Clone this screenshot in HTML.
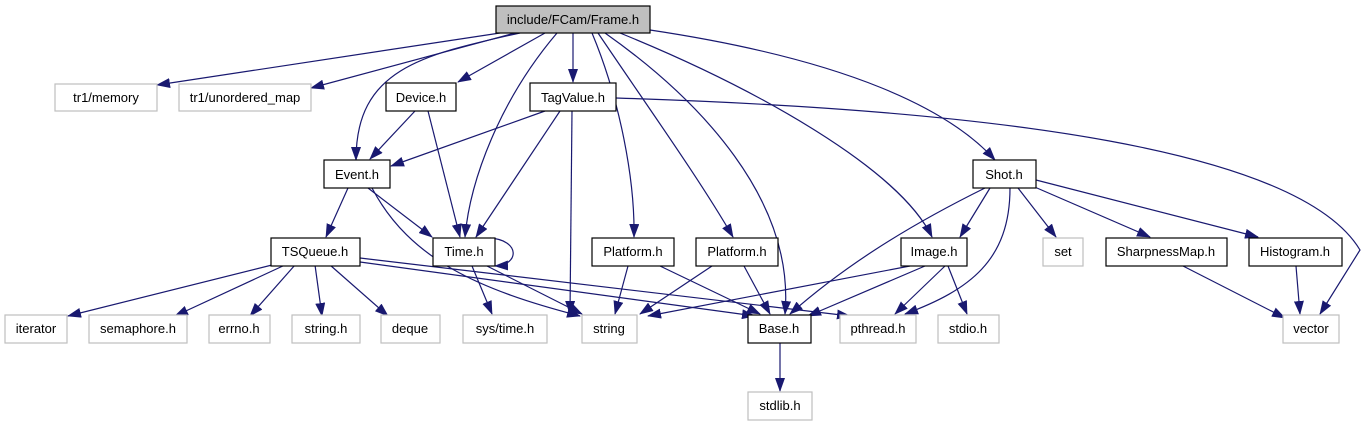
<!DOCTYPE html>
<html><head><style>
html,body{margin:0;padding:0;background:#fff;}
svg{display:block;}
text{font-family:"Liberation Sans",sans-serif;font-size:13px;text-anchor:middle;fill:#000;}
</style></head><body>
<svg width="1366" height="427" viewBox="0 0 1366 427">
<defs>
<marker id="a" markerWidth="14" markerHeight="10" refX="13" refY="5" orient="auto" markerUnits="userSpaceOnUse">
<path d="M0,0 L14,5 L0,10 z" fill="#191970"/>
</marker>
</defs>
<g fill="none" stroke="#191970" stroke-width="1.2" marker-end="url(#a)">
<path d="M500,33 L157,85"/>
<path d="M515,33 L311,88"/>
<path d="M520,33 C420,55 356,70 356,160"/>
<path d="M545,33 L458,82"/>
<path d="M573,33 L573,82"/>
<path d="M557,33 C500,100 470,180 465,237"/>
<path d="M592,33 C620,100 635,180 634,237"/>
<path d="M598,33 C650,110 700,180 733,237"/>
<path d="M605,33 C700,100 795,200 785,314"/>
<path d="M620,33 C760,90 900,170 932,237"/>
<path d="M650,30 C850,60 950,110 995,160"/>
<path d="M415,111 L370,159"/>
<path d="M428,111 L460,237"/>
<path d="M545,111 L391,166"/>
<path d="M560,111 L476,237"/>
<path d="M572,111 L570,314"/>
<path d="M616,98 C1000,110 1300,150 1360,250 L1320,314"/>
<path d="M348,188 L326,237"/>
<path d="M368,188 L432,237"/>
<path d="M372,188 C410,260 480,290 580,316"/>
<path d="M272,265 L68,316"/>
<path d="M285,265 L175,316"/>
<path d="M295,265 L250,316"/>
<path d="M315,265 L322,316"/>
<path d="M330,265 L388,316"/>
<path d="M360,262 L755,316"/>
<path d="M360,258 L850,316"/>
<path d="M490,238 C520,240 520,265 495,266"/>
<path d="M472,266 L492,314"/>
<path d="M487,266 L582,314"/>
<path d="M628,266 L615,314"/>
<path d="M660,266 L760,314"/>
<path d="M712,266 L640,314"/>
<path d="M744,266 L770,314"/>
<path d="M910,266 L648,316"/>
<path d="M925,266 L808,316"/>
<path d="M945,266 L895,314"/>
<path d="M948,266 L967,314"/>
<path d="M990,188 L960,237"/>
<path d="M985,188 C900,230 840,270 790,314"/>
<path d="M1010,188 C1010,260 970,290 905,314"/>
<path d="M1018,188 L1056,237"/>
<path d="M1030,185 L1150,237"/>
<path d="M1036,180 L1258,237"/>
<path d="M1183,266 L1285,318"/>
<path d="M1296,266 L1300,314"/>
<path d="M780,343 L780,391"/>
</g>
<g stroke-width="1.2">
<rect x="496" y="6" width="154" height="27" fill="#bfbfbf" stroke="#000"/>
<text x="573" y="24">include/FCam/Frame.h</text>
<g fill="#fff" stroke="#bfbfbf">
<rect x="55" y="84" width="102" height="27"/><rect x="179" y="84" width="132" height="27"/>
<rect x="1043" y="238" width="40" height="28"/>
<rect x="5" y="315" width="62" height="28"/><rect x="89" y="315" width="98" height="28"/>
<rect x="209" y="315" width="61" height="28"/><rect x="292" y="315" width="68" height="28"/>
<rect x="381" y="315" width="59" height="28"/><rect x="463" y="315" width="84" height="28"/>
<rect x="582" y="315" width="55" height="28"/><rect x="840" y="315" width="76" height="28"/>
<rect x="938" y="315" width="61" height="28"/><rect x="1283" y="315" width="56" height="28"/>
<rect x="748" y="392" width="64" height="28"/>
</g>
<g fill="#fff" stroke="#000">
<rect x="386" y="83" width="70" height="28"/><rect x="530" y="83" width="86" height="28"/>
<rect x="324" y="160" width="66" height="28"/><rect x="973" y="160" width="63" height="28"/>
<rect x="271" y="238" width="89" height="28"/><rect x="433" y="238" width="62" height="28"/>
<rect x="592" y="238" width="82" height="28"/><rect x="696" y="238" width="82" height="28"/>
<rect x="901" y="238" width="66" height="28"/><rect x="1106" y="238" width="121" height="28"/>
<rect x="1249" y="238" width="93" height="28"/><rect x="748" y="315" width="63" height="28"/>
</g>
</g>
<g>
<text x="106" y="102">tr1/memory</text><text x="245" y="102">tr1/unordered_map</text>
<text x="421" y="102">Device.h</text><text x="573" y="102">TagValue.h</text>
<text x="357" y="179">Event.h</text><text x="1004" y="179">Shot.h</text>
<text x="315" y="256">TSQueue.h</text><text x="464" y="256">Time.h</text>
<text x="633" y="256">Platform.h</text><text x="737" y="256">Platform.h</text>
<text x="934" y="256">Image.h</text><text x="1063" y="256">set</text>
<text x="1166" y="256">SharpnessMap.h</text><text x="1295" y="256">Histogram.h</text>
<text x="36" y="333">iterator</text><text x="138" y="333">semaphore.h</text>
<text x="239" y="333">errno.h</text><text x="326" y="333">string.h</text>
<text x="410" y="333">deque</text><text x="505" y="333">sys/time.h</text>
<text x="609" y="333">string</text><text x="779" y="333">Base.h</text>
<text x="878" y="333">pthread.h</text><text x="968" y="333">stdio.h</text>
<text x="1311" y="333">vector</text><text x="780" y="410">stdlib.h</text>
</g>
</svg>
</body></html>
